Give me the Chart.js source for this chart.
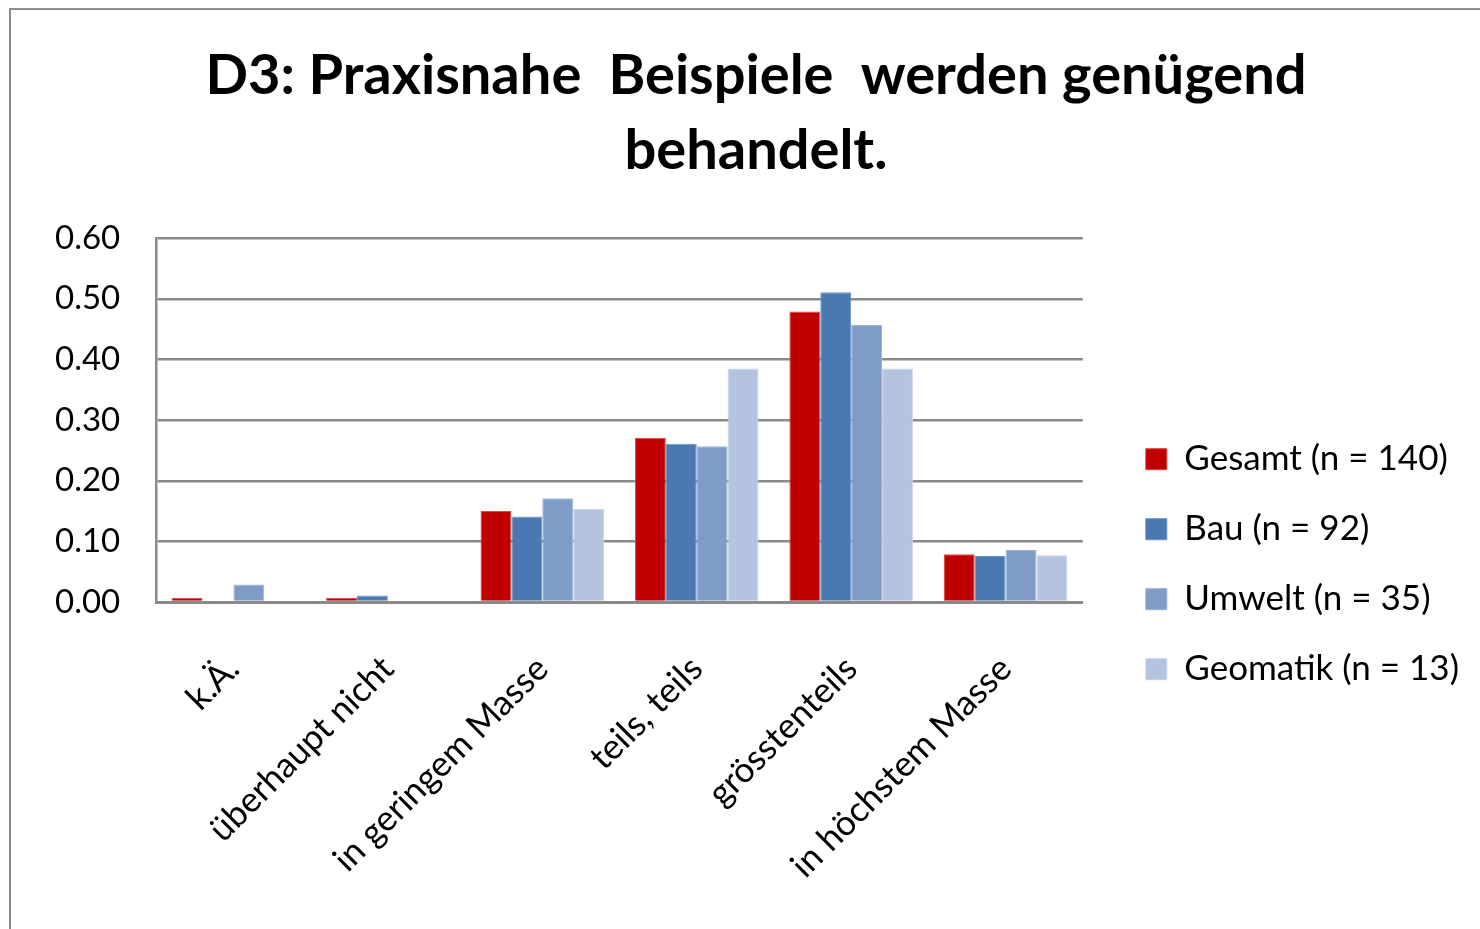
<!DOCTYPE html>
<html>
<head>
<meta charset="utf-8">
<script src="https://cdn.jsdelivr.net/npm/chart.js@4"></script>
<style>
  html, body { margin: 0; padding: 0; background: #fff; overflow: hidden; width: 1480px; height: 929px; }
  #frame { position: absolute; left: 9px; top: 8px; width: 1494px; height: 940px; border: 2px solid #8c8c8c; background: #fff; }
  canvas { display: block; }
</style>
</head>
<body>
<div id="frame"><canvas id="c" width="1494" height="925"></canvas></div>
<script>
const titleLines = ["D3: Praxisnahe  Beispiele  werden genügend", "behandelt."];
const categories = ["k.Ä.", "überhaupt nicht", "in geringem Masse", "teils, teils", "grösstenteils", "in höchstem Masse"];
const seriesNames = ["Gesamt (n = 140)", "Bau (n = 92)", "Umwelt (n = 35)", "Geomatik (n = 13)"];
const gesamt   = [0.007, 0.007, 0.150, 0.271, 0.479, 0.079];
const bau      = [0.000, 0.011, 0.141, 0.261, 0.511, 0.076];
const umwelt   = [0.029, 0.000, 0.171, 0.257, 0.457, 0.086];
const geomatik = [0.000, 0.000, 0.154, 0.385, 0.385, 0.077];
const yTicks = [0, 0.1, 0.2, 0.3, 0.4, 0.5, 0.6];

const colors = ["#C00000", "#4A78B0", "#7F9CC8", "#B4C4DF"];
const borders = ["#D84545", "#6A91C4", "#9AB2D6", "#C8D4E8"];
const values = [gesamt, bau, umwelt, geomatik];

const FONT = "Lato, 'Open Sans', sans-serif";

const chart = new Chart(document.getElementById('c'), {
  type: 'bar',
  data: {
    labels: categories,
    datasets: seriesNames.map((n, i) => ({
      label: n,
      data: values[i],
      backgroundColor: colors[i],
      borderColor: borders[i],
      borderWidth: 1,
      categoryPercentage: 0.8,
      barPercentage: 1.0
    }))
  },
  options: {
    responsive: false,
    animation: false,
    layout: { padding: { left: 8, right: 12, top: 0, bottom: 3 } },
    plugins: {
      tooltip: { enabled: false },
      title: {
        display: true,
        text: titleLines,
        color: '#000',
        font: { family: FONT, size: 56, weight: 'bold', lineHeight: 1.35 },
        padding: { top: 28, bottom: 49 }
      },
      legend: {
        position: 'right',
        maxWidth: 600,
        title: {
          display: true,
          text: ' ',
          font: { family: FONT, size: 12, lineHeight: 1.2 },
          padding: { top: 172, bottom: 0 }
        },
        labels: {
          color: '#000',
          font: { family: FONT, size: 35 },
          boxWidth: 21,
          boxHeight: 21,
          padding: 35
        }
      }
    },
    scales: {
      x: {
        grid: { display: false, drawTicks: false },
        border: { display: true, color: '#8a8a8a', width: 3 },
        ticks: {
          color: '#000',
          font: { family: FONT, size: 35 },
          minRotation: 45, maxRotation: 45,
          padding: 46,
          autoSkip: false
        },
        afterFit: (s) => { s.paddingLeft = 0; s.paddingRight = 0; }
      },
      y: {
        min: 0, max: 0.6,
        afterBuildTicks: (axis) => { axis.ticks = yTicks.map(v => ({ value: v })); },
        grid: { color: '#8a8a8a', lineWidth: 2.5, drawTicks: false },
        border: { display: true, color: '#8a8a8a', width: 2.5 },
        ticks: {
          color: '#000',
          font: { family: FONT, size: 33 },
          padding: 36,
          callback: (v) => Number(v).toFixed(2)
        }
      },
      gap: {
        type: 'linear',
        position: 'right',
        display: true,
        grid: { display: false, drawTicks: false },
        border: { display: false },
        ticks: { display: false },
        afterFit: (s) => { s.width = 28; }
      }
    }
  }
});

// widen the legend box on its right side so the title centres like the original frame
if (chart.legend) {
  const baseFit = chart.legend.fit;
  chart.legend.fit = function () { baseFit.call(this); this.width += 24; };
  chart.update();
}
</script>
</body>
</html>
